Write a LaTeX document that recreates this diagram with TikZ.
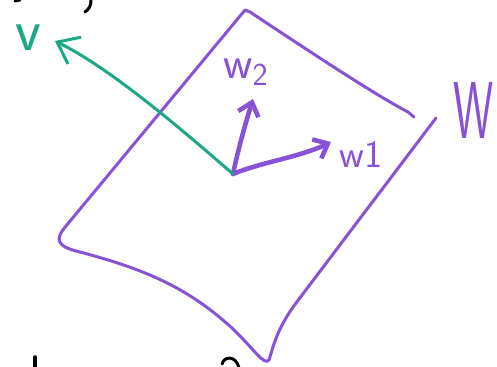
\documentclass[tikz,border=0pt]{standalone}
\usepackage{tikz}
\usetikzlibrary{arrows.meta, calc}
\definecolor{inkpurple}{RGB}{136,82,214}
\definecolor{inkgreen}{RGB}{26,168,134}

\begin{document}
\begin{tikzpicture}[
    x=0.02cm, y=-0.02cm,
    every node/.style={font=\sffamily, inner sep=0pt},
    plane/.style={draw=inkpurple, line width=1.7pt, line cap=round, line join=round},
    basis/.style={-{Straight Barb[length=7pt, width=12pt]}, draw=inkpurple, line width=2.6pt, line cap=round},
    vec/.style={-{Straight Barb[length=11pt, width=17pt]}, draw=inkgreen, line width=1.7pt, line cap=round},
    ink/.style={draw=black, line width=1.7pt, line cap=round},
    lbl/.style={text=inkpurple}
]
\useasboundingbox (0,0) rectangle (497,366);

% --- cut-off writing above and below ---
\draw[ink] (15,1) -- (20,0);
\draw[ink] (91,0) .. controls (91,6) and (89,9) .. (85,12);
\draw[ink, line width=2pt] (35,357) -- (35,368);
\draw[ink] (222,364) .. controls (224,356) and (236,355) .. (239,368);

% --- the plane W ---
\draw[plane] (414,117) -- (408,112)
    .. controls (370,92) and (300,45) .. (250,12) -- (245,10)
    -- (66,226)
    .. controls (54,240) and (58,246) .. (76,251)
    .. controls (150,270) and (190,290) .. (232,328)
    .. controls (255,350) and (264,366) .. (269,360)
    .. controls (273,348) and (276,330) .. (296,303)
    -- (436,118);
\node[lbl, font=\fontsize{46}{46}\selectfont\sffamily] (W) at (474,110) {\scalebox{0.56}[1]{W}};

% --- basis vectors ---
\coordinate (o) at (233,174);
\coordinate (w2tip) at (253,99);
\coordinate (w1tip) at (331,142);
\coordinate (vtip) at (55,41);

\draw[basis] (o) .. controls (238,150) and (245,125) .. (w2tip);
\draw[basis] (o) .. controls (262,162) and (300,157) .. (w1tip);
\node[lbl, font=\fontsize{26}{26}\selectfont\sffamily] (w2) at (246,72) {w\textsubscript{2}};
\node[lbl, font=\fontsize{22}{22}\selectfont\sffamily] (w1) at (361,155) {w1};

% --- vector v ---
\draw[vec] (o) .. controls (180,128) and (110,68) .. (vtip);
\node[text=inkgreen, font=\fontsize{34}{34}\selectfont\sffamily] (v) at (28,38) {v};
\end{tikzpicture}
\end{document}
